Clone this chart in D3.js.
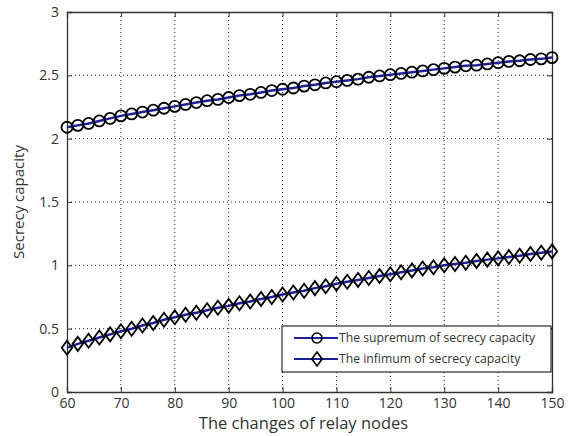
<!DOCTYPE html>
<html>
<head>
<meta charset="utf-8">
<script src="https://cdn.jsdelivr.net/npm/d3@7"></script>
<style>
  body { margin: 0; background: #fff; }
  text { font-family: "Open Sans", "Noto Sans", sans-serif; fill: #333; }
</style>
</head>
<body>
<div id="plot_area"></div>
<script>
// relay node counts 60..150 step 2
var nodes = [60,62,64,66,68,70,72,74,76,78,80,82,84,86,88,90,92,94,96,98,100,102,104,106,108,
             110,112,114,116,118,120,122,124,126,128,130,132,134,136,138,140,142,144,146,148,150];

var supremum = [2.09,2.105,2.12,2.14,2.16,2.18,2.195,2.21,2.225,2.24,2.255,2.27,2.285,2.30,2.31,
                2.325,2.34,2.35,2.365,2.38,2.39,2.40,2.415,2.425,2.44,2.45,2.46,2.47,2.485,2.495,
                2.505,2.515,2.525,2.535,2.545,2.555,2.565,2.575,2.58,2.59,2.60,2.61,2.615,2.625,2.63,2.64];

var infimum = [0.35,0.38,0.405,0.43,0.455,0.48,0.50,0.525,0.545,0.57,0.59,0.61,0.625,0.645,0.665,
               0.68,0.70,0.715,0.735,0.75,0.77,0.785,0.80,0.82,0.835,0.855,0.87,0.885,0.90,0.915,
               0.93,0.945,0.96,0.975,0.985,1.00,1.01,1.02,1.035,1.045,1.055,1.065,1.075,1.09,1.10,1.11];

var xTicks = [60,70,80,90,100,110,120,130,140,150];
var yTicks = [0,0.5,1,1.5,2,2.5,3];
var yTickLabels = ["0","0.5","1","1.5","2","2.5","3"];
var legendLabels = ["The supremum of secrecy capacity", "The infimum of secrecy capacity"];

var W = 570, H = 436;
var margin = {top: 12, right: 18, bottom: 44, left: 67};
var width = W - margin.left - margin.right,
    height = H - margin.top - margin.bottom;

var svg = d3.select("#plot_area").append("svg")
  .attr("width", W).attr("height", H);

var g = svg.append("g").attr("transform", "translate(" + margin.left + "," + margin.top + ")");

var x = d3.scaleLinear().domain([60, 150]).range([0, width]);
var y = d3.scaleLinear().domain([0, 3]).range([height, 0]);

// grid
g.append("g")
  .selectAll("line").data(xTicks.slice(1, -1)).enter().append("line")
  .attr("x1", d => x(d)).attr("x2", d => x(d))
  .attr("y1", 0).attr("y2", height)
  .attr("stroke", "#222").attr("stroke-width", 1).attr("stroke-dasharray", "1,3");
g.append("g")
  .selectAll("line").data(yTicks.slice(1, -1)).enter().append("line")
  .attr("y1", d => y(d)).attr("y2", d => y(d))
  .attr("x1", 0).attr("x2", width)
  .attr("stroke", "#222").attr("stroke-width", 1).attr("stroke-dasharray", "1,3");

// axes
var xAxis = g.append("g").attr("transform", "translate(0," + height + ")")
  .call(d3.axisBottom(x).tickValues(xTicks).tickSize(-5).tickPadding(6).tickFormat(d3.format("d")));
var xTop = g.append("g")
  .call(d3.axisTop(x).tickValues(xTicks).tickSize(-5).tickFormat(""));
var yAxis = g.append("g")
  .call(d3.axisLeft(y).tickValues(yTicks).tickSize(-5).tickPadding(8)
    .tickFormat((d, i) => yTickLabels[i]));
var yRight = g.append("g").attr("transform", "translate(" + width + ",0)")
  .call(d3.axisRight(y).tickValues(yTicks).tickSize(-5).tickFormat(""));

[xAxis, xTop, yAxis, yRight].forEach(function(a) {
  a.select(".domain").attr("stroke", "#333").attr("stroke-width", 1.3);
  a.selectAll(".tick line").attr("stroke", "#333");
  a.selectAll("text").style("font-size", "14px").attr("fill", "#444");
});

// axis titles
svg.append("text")
  .attr("x", margin.left + width / 2 - 6).attr("y", 429)
  .attr("text-anchor", "middle").style("font-size", "16.5px")
  .text("The changes of relay nodes");
svg.append("text")
  .attr("transform", "translate(24," + (margin.top + height / 2) + ") rotate(-90)")
  .attr("text-anchor", "middle").style("font-size", "15px")
  .text("Secrecy capacity");

var lineColor = "#1f1f9a";
var line = d3.line().x((d, i) => x(nodes[i])).y(d => y(d));

function diamond(cx, cy) {
  return "M" + cx + "," + (cy - 7) + "L" + (cx + 5.2) + "," + cy +
         "L" + cx + "," + (cy + 7) + "L" + (cx - 5.2) + "," + cy + "Z";
}

// supremum
g.append("path").datum(supremum).attr("d", line)
  .attr("fill", "none").attr("stroke", lineColor).attr("stroke-width", 2.5);
g.selectAll(".sup").data(supremum).enter().append("circle")
  .attr("class", "sup")
  .attr("cx", (d, i) => x(nodes[i])).attr("cy", d => y(d)).attr("r", 5.5)
  .attr("fill", "none").attr("stroke", "#000").attr("stroke-width", 1.8);

// infimum
g.append("path").datum(infimum).attr("d", line)
  .attr("fill", "none").attr("stroke", lineColor).attr("stroke-width", 2.5);
g.selectAll(".inf").data(infimum).enter().append("path")
  .attr("class", "inf")
  .attr("d", (d, i) => diamond(x(nodes[i]), y(d)))
  .attr("fill", "none").attr("stroke", "#000").attr("stroke-width", 1.8);

// legend
var lg = svg.append("g").attr("transform", "translate(282,326)");
lg.append("rect").attr("width", 269).attr("height", 46)
  .attr("fill", "#fff").attr("stroke", "#000").attr("stroke-width", 1);
legendLabels.forEach(function(lab, i) {
  var ly = 12 + i * 21;
  lg.append("line").attr("x1", 12).attr("x2", 56).attr("y1", ly).attr("y2", ly)
    .attr("stroke", lineColor).attr("stroke-width", 2);
  if (i === 0) {
    lg.append("circle").attr("cx", 35).attr("cy", ly).attr("r", 5)
      .attr("fill", "none").attr("stroke", "#000").attr("stroke-width", 1.6);
  } else {
    lg.append("path").attr("d", diamond(35, ly))
      .attr("fill", "none").attr("stroke", "#000").attr("stroke-width", 1.6);
  }
  lg.append("text").attr("x", 57).attr("y", ly).attr("dy", "0.35em")
    .style("font-size", "12.2px").attr("fill", "#222").text(lab);
});
</script>
</body>
</html>
